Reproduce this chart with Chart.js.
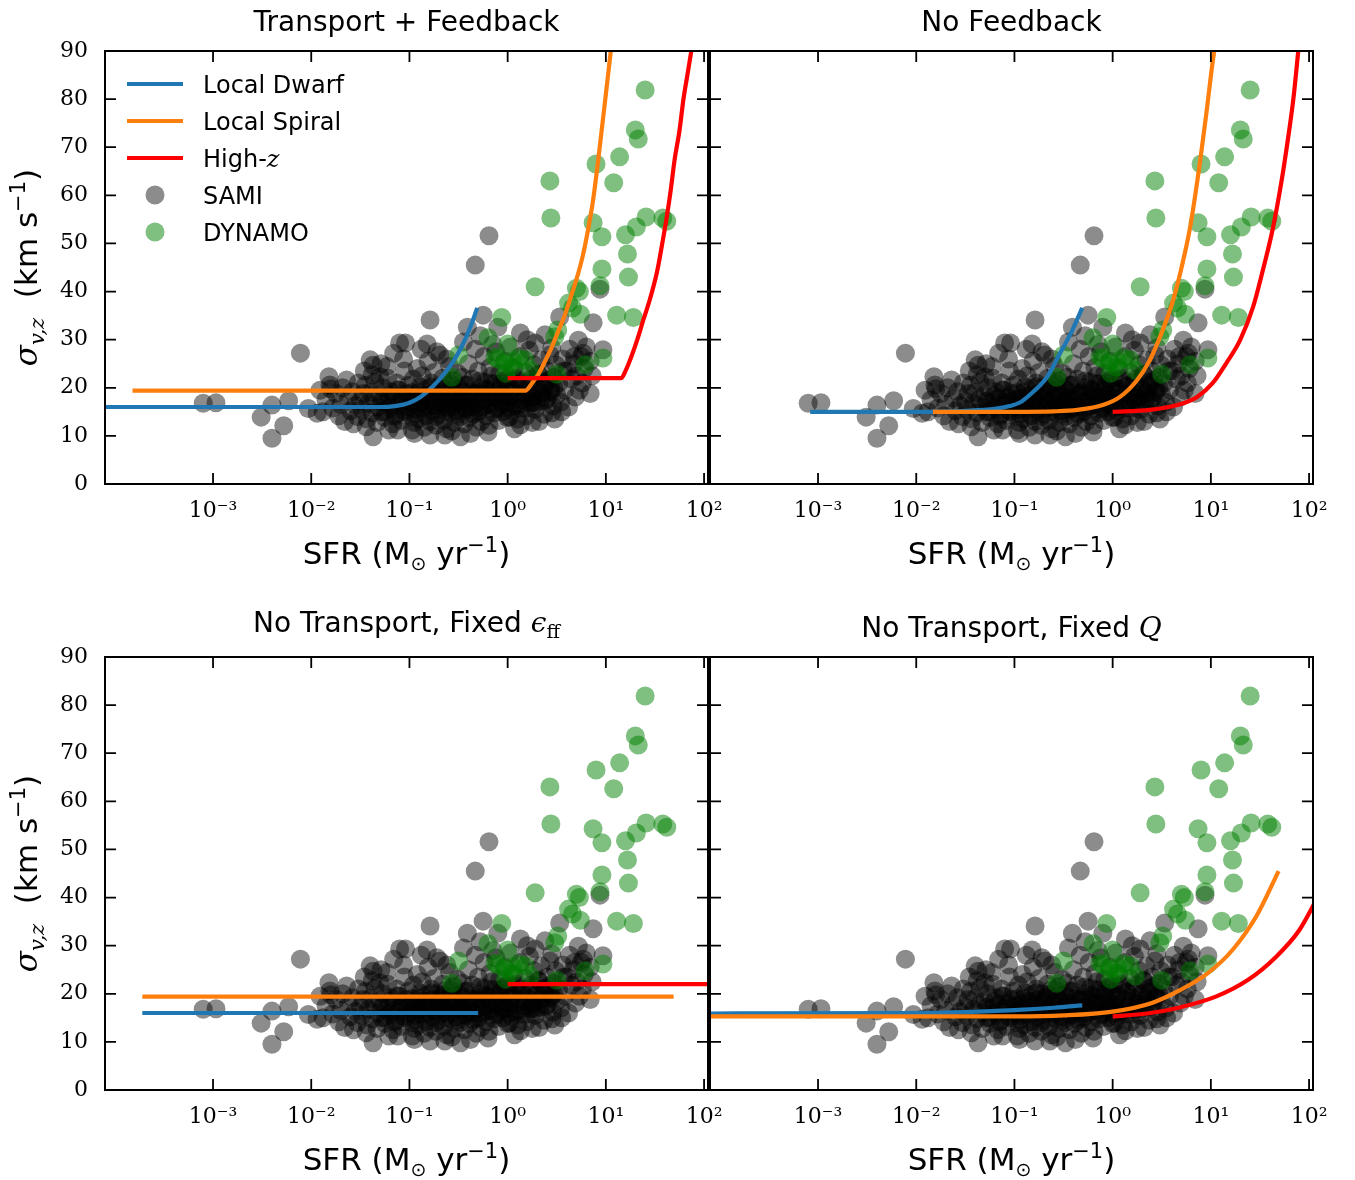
<!DOCTYPE html>
<html>
<head>
<meta charset="utf-8">
<script src="https://cdn.jsdelivr.net/npm/chart.js@4.4.1/dist/chart.umd.min.js"></script>
<style>
html,body{margin:0;padding:0;background:#fff;}
#wrap{position:relative;width:1355px;height:1180px;background:#fff;}
canvas{position:absolute;left:0;top:0;}
</style>
</head>
<body>
<div id="wrap">
<canvas id="c0" width="1355" height="1180"></canvas>
<canvas id="c1" width="1355" height="1180"></canvas>
<canvas id="c2" width="1355" height="1180"></canvas>
<canvas id="c3" width="1355" height="1180"></canvas>
</div>
<script>
// ---------------- DATA ----------------
const xTickValues = [1e-3, 1e-2, 1e-1, 1, 10, 100];
const xTickLabels = ['10⁻³', '10⁻²', '10⁻¹', '10⁰', '10¹', '10²'];
const yTickValues = [0, 10, 20, 30, 40, 50, 60, 70, 80, 90];
const yTickLabels = ['0', '10', '20', '30', '40', '50', '60', '70', '80', '90'];
const xLogMin = -4.1, xLogMax = 2.04;

const legendLabels = ['Local Dwarf', 'Local Spiral', 'High-', 'SAMI', 'DYNAMO'];

// SAMI (log10 SFR, sigma)
const samiLogSFR = [
 -3.10,-2.97,-2.40,-2.51,-2.28,-2.40,-2.23,-2.11,-2.03,-1.94,
 -1.91,-1.82,-1.81,-1.64,-1.40,-1.37,-1.38,-1.37,-1.44,-1.16,
 -1.10,-1.23,-1.30,-1.04,-0.82,-0.79,-0.41,-0.25,-0.10,0.13,
 0.28,0.45,0.72,0.77,0.87,0.97,0.69,0.55,0.45,0.13,
 0.02,-0.48,-0.64,-0.79,-0.97,-1.12,-0.33,-0.19,0.53,0.94,
 0.76,0.84,0.86,0.57,
 -1.85,-1.78,-1.75,-1.72,-1.70,-1.68,-1.66,-1.62,-1.60,-1.58,
 -1.55,-1.53,-1.52,-1.50,-1.88,-1.80,-1.57,
 -1.48,-1.47,-1.45,-1.43,-1.42,-1.40,-1.38,-1.36,-1.35,-1.33,
 -1.32,-1.30,-1.28,-1.27,-1.25,-1.24,-1.22,-1.20,-1.19,-1.17,
 -1.16,-1.14,-1.13,-1.11,-1.10,-1.08,-1.07,-1.05,-1.04,-1.02,
 -1.01,-1.46,-1.29,-1.21,-1.06,
 -0.99,-0.98,-0.97,-0.96,-0.95,-0.94,-0.93,-0.92,-0.91,-0.90,
 -0.89,-0.88,-0.87,-0.86,-0.85,-0.84,-0.83,-0.82,-0.81,-0.80,
 -0.79,-0.78,-0.77,-0.76,-0.75,-0.74,-0.73,-0.72,-0.71,-0.70,
 -0.69,-0.68,-0.67,-0.66,-0.65,-0.64,-0.63,-0.62,-0.61,-0.60,
 -0.59,-0.58,-0.57,-0.56,-0.55,-0.54,-0.53,-0.52,-0.51,-0.50,
 -0.88,-0.72,-0.57,-0.95,-0.62,
 -0.49,-0.48,-0.47,-0.46,-0.45,-0.44,-0.43,-0.42,-0.41,-0.40,
 -0.39,-0.38,-0.37,-0.36,-0.35,-0.34,-0.33,-0.32,-0.31,-0.30,
 -0.29,-0.28,-0.27,-0.26,-0.25,-0.24,-0.23,-0.22,-0.21,-0.20,
 -0.19,-0.18,-0.17,-0.16,-0.15,-0.14,-0.13,-0.12,-0.11,-0.10,
 -0.09,-0.08,-0.07,-0.06,-0.05,-0.04,-0.03,-0.02,-0.01,0.00,
 -0.45,-0.28,-0.15,-0.38,-0.20,
 0.01,0.02,0.04,0.05,0.06,0.08,0.09,0.10,0.11,0.13,
 0.14,0.15,0.16,0.18,0.19,0.20,0.22,0.23,0.24,0.26,
 0.27,0.28,0.30,0.31,0.33,0.34,0.35,0.37,0.38,0.40,
 0.41,0.43,0.44,0.46,0.47,0.49,0.50,0.07,0.25,0.32,
 0.48,0.20,0.38,0.03,
 0.52,0.54,0.56,0.58,0.60,0.62,0.63,0.65,0.67,0.70,
 0.73,0.75,0.78,0.80,0.84,0.68,
 -1.28,-1.25,-1.21,-1.18,-1.15,-1.12,-1.09,-1.06,-1.03,-1.00,
 -0.97,-0.94,-0.91,-0.89,-0.86,-0.84,-0.81,-0.78,-0.76,-0.73,
 -0.71,-0.68,-0.66,-0.63,-0.61,-0.58,-0.56,-0.53,-0.51,-0.48,
 -0.46,-0.43,-0.41,-0.38,-0.36,-0.33,-0.31,-0.28,-0.26,-0.23,
 -0.21,-0.18,-0.16,-0.13,-0.11,-0.08,-0.06,-0.03,-0.01,0.02,
 0.04,0.07,0.09,0.12,0.14,0.17,0.19,0.22,0.24,0.27,
 0.29,0.32,0.34,0.37,0.39,0.42,0.44,0.47,0.35,0.25
];
const samiSigma = [
 16.8,16.9,16.4,13.9,12.1,9.5,17.3,27.2,15.7,14.7,
 19.5,22.3,20.6,21.6,25.8,24.7,22.7,9.8,11.9,27.2,
 29.3,24.4,22.3,29.3,29.1,34.1,32.6,35.1,32.6,31.4,
 29.3,28.3,29.9,27.2,33.5,27.9,18.1,15.0,14.8,12.3,
 13.9,9.8,10.2,10.2,11.2,11.2,45.5,51.6,34.7,40.5,
 21.0,18.8,22.5,23.5,
 17.5,15.8,18.8,14.2,16.5,20.0,13.0,17.8,15.2,19.2,
 16.3,14.0,21.0,17.2,15.0,19.8,12.5,
 15.5,18.8,20.5,13.5,16.8,19.0,14.8,17.5,21.2,12.8,
 16.0,18.5,15.0,20.0,13.8,17.0,22.0,15.8,19.2,12.5,
 17.8,14.5,21.0,16.2,19.5,13.2,18.0,23.5,15.0,17.2,
 20.5,23.5,25.0,11.2,26.0,
 14.0,16.8,19.0,21.8,12.8,15.5,18.0,24.0,17.0,13.5,
 20.2,15.8,22.5,18.5,11.8,16.5,14.2,19.8,25.5,17.5,
 13.0,21.0,15.2,18.8,23.2,16.2,12.2,20.0,14.5,17.8,
 26.8,19.2,15.8,22.0,13.2,17.0,20.8,11.5,16.0,18.2,
 24.5,14.8,19.5,16.8,21.5,12.8,18.0,15.2,23.0,17.2,
 28.0,27.5,11.0,10.5,26.0,
 19.8,14.0,16.5,22.2,18.2,12.5,20.5,15.5,17.5,25.0,
 13.8,19.0,16.2,21.8,14.5,18.5,28.0,11.8,17.0,23.5,
 15.2,20.0,13.0,18.8,16.0,26.5,21.2,14.2,17.8,19.5,
 12.2,24.2,16.5,22.5,18.0,14.8,20.8,27.5,15.8,19.0,
 13.2,23.0,17.2,21.0,15.0,18.5,25.5,16.8,20.2,13.8,
 29.5,30.8,29.0,10.5,10.8,
 22.0,17.8,15.2,19.8,24.0,16.2,21.5,13.5,18.8,26.5,
 15.8,20.5,17.5,23.2,14.2,19.2,27.8,16.8,21.8,18.0,
 24.8,15.5,20.0,22.8,17.2,25.8,19.0,14.5,21.2,23.5,
 17.8,26.8,19.8,16.2,22.2,24.8,18.5,11.5,12.8,13.0,
 13.5,30.0,31.0,28.5,
 21.0,17.0,26.0,19.5,23.5,16.0,28.0,21.8,25.0,22.5,
 19.5,26.5,24.0,28.5,25.5,26.5,
 17.2,15.0,18.4,16.3,14.1,19.6,17.0,15.4,18.8,16.0,
 17.6,14.6,19.0,16.8,18.2,15.6,17.4,20.2,16.4,14.0,
 18.6,16.9,19.8,15.1,17.9,20.8,16.1,18.7,14.5,17.1,
 19.3,15.8,20.6,17.7,16.0,18.9,14.9,21.4,17.3,19.7,
 16.4,18.3,20.9,15.6,17.8,19.9,16.7,21.6,18.1,15.9,
 19.4,17.5,22.0,16.6,20.3,18.4,15.7,21.1,17.9,19.6,
 16.9,22.6,18.8,20.4,17.4,21.5,19.2,20.0,18.0,17.0
];

// DYNAMO (log10 SFR, sigma)
const dynamoLogSFR = [
 1.40,1.30,1.33,1.14,0.90,1.08,0.43,0.44,0.87,0.96,
 1.20,1.31,1.41,1.58,1.62,1.22,0.96,1.23,0.28,0.94,
 0.70,0.73,0.62,0.66,-0.06,1.11,1.28,0.74,0.51,0.48,
 -0.20,0.00,-0.50,-0.13,-0.10,0.11,-0.03,0.18,0.23,0.04,
 -0.57,0.50,0.79,0.97,0.05,-0.02
];
const dynamoSigma = [
 81.9,73.6,71.7,68.0,66.5,62.6,63.0,55.3,54.3,51.4,
 51.8,53.4,55.5,55.3,54.6,47.8,44.7,43.0,41.0,41.2,
 40.7,40.0,37.6,36.6,34.6,35.1,34.6,35.3,32.0,30.6,
 30.4,29.1,26.8,26.4,26.0,26.2,25.2,25.8,23.7,24.3,
 22.2,22.8,24.8,26.2,25.5,23.0
];

// Model curves: Transport + Feedback
const tfDwarfLogSFR = [-4.1,-1.3,-1.15,-1.0,-0.88,-0.76,-0.65,-0.55,-0.46,-0.38,-0.31];
const tfDwarfSigma  = [16.0,16.0,16.2,16.9,18.2,20.3,22.8,25.6,28.9,32.6,36.6];
const tfSpiralLogSFR = [-3.82,0.18,0.25,0.31,0.38,0.45,0.52,0.58,0.64,0.70,0.76,0.82,0.87,0.92,0.96,1.00,1.05];
const tfSpiralSigma  = [19.4,19.4,21.0,22.7,25.5,28.5,32.0,35.0,38.7,42.5,47.0,53.0,59.0,67.0,74.0,81.0,90.0];
const tfHighzLogSFR = [0.0,1.155,1.2,1.26,1.32,1.38,1.45,1.52,1.57,1.62,1.66,1.70,1.75,1.79,1.83,1.87];
const tfHighzSigma  = [22.0,22.0,23.5,26.5,30.0,34.0,38.5,44.0,49.5,55.5,61.0,67.4,73.5,80.0,85.0,90.0];

// No Feedback
const nfDwarfLogSFR = [-3.08,-2.0,-1.5,-1.2,-1.05,-0.94,-0.84,-0.67,-0.54,-0.41,-0.31];
const nfDwarfSigma  = [15.0,15.0,15.2,15.6,16.2,17.0,18.6,22.2,27.0,32.0,36.6];
const nfSpiralLogSFR = [-1.83,-1.0,-0.6,-0.36,-0.1,0.075,0.25,0.38,0.51,0.61,0.69,0.79,0.89,0.96,1.02,1.035];
const nfSpiralSigma  = [15.0,15.0,15.1,15.4,16.4,18.1,21.6,25.8,32.0,37.8,44.0,53.5,67.0,78.0,88.0,90.0];
const nfHighzLogSFR = [0.0,0.38,0.66,0.86,1.02,1.16,1.30,1.43,1.53,1.63,1.72,1.78,1.84,1.89];
const nfHighzSigma  = [15.0,15.4,16.4,18.1,21.0,25.2,30.0,36.8,44.5,53.0,63.0,71.0,80.0,90.0];

// No Transport, Fixed eps_ff
const feDwarfLogSFR = [-3.72,-0.30];
const feDwarfSigma  = [16.0,16.0];
const feSpiralLogSFR = [-3.72,1.69];
const feSpiralSigma  = [19.4,19.4];
const feHighzLogSFR = [0.0,2.1];
const feHighzSigma  = [22.0,22.0];

// No Transport, Fixed Q
const fqDwarfLogSFR = [-4.2,-2.0,-1.5,-1.0,-0.6,-0.31];
const fqDwarfSigma  = [15.9,16.0,16.2,16.6,17.1,17.6];
const fqSpiralLogSFR = [-4.2,-1.0,-0.5,0.0,0.4,0.69,0.97,1.22,1.46,1.69];
const fqSpiralSigma  = [15.3,15.3,15.5,16.3,18.1,20.8,24.3,29.1,36.0,45.5];
const fqHighzLogSFR = [0.0,0.35,0.65,1.05,1.38,1.66,1.9,2.1];
const fqHighzSigma  = [15.3,15.9,17.0,19.4,22.9,27.6,33.2,40.5];

// ---------------- STYLE / LAYOUT ----------------
const W = 1355, H = 1180;
const SANS = '"DejaVu Sans", sans-serif';
const SERIF = '"DejaVu Serif", serif';
const C_DWARF = '#1f77b4', C_SPIRAL = '#ff7f0e', C_HIGHZ = '#ff0000';
const C_SAMI = 'rgba(0,0,0,0.45)', C_DYN = 'rgba(0,128,0,0.5)';
const Y_AXIS_W = 105, X_AXIS_H = 60, TICK_LEN = 11;

const panels = [
  {id:'c0', L:105, T:51, R:708, B:484, yLabels:true, legend:true, titleBase:31,
   title:[{t:'Transport + Feedback'}],
   dwarf:[tfDwarfLogSFR,tfDwarfSigma], spiral:[tfSpiralLogSFR,tfSpiralSigma], highz:[tfHighzLogSFR,tfHighzSigma]},
  {id:'c1', L:710, T:51, R:1313, B:484, yLabels:false, legend:false, titleBase:31,
   title:[{t:'No Feedback'}],
   dwarf:[nfDwarfLogSFR,nfDwarfSigma], spiral:[nfSpiralLogSFR,nfSpiralSigma], highz:[nfHighzLogSFR,nfHighzSigma]},
  {id:'c2', L:105, T:657, R:708, B:1090, yLabels:true, legend:false, titleBase:632,
   title:[{t:'No Transport, Fixed '},{t:'ϵ', f:'italic 28px '+SERIF},{t:'ff', f:'19px '+SERIF, dy:6}],
   dwarf:[feDwarfLogSFR,feDwarfSigma], spiral:[feSpiralLogSFR,feSpiralSigma], highz:[feHighzLogSFR,feHighzSigma]},
  {id:'c3', L:710, T:657, R:1313, B:1090, yLabels:false, legend:false, titleBase:637,
   title:[{t:'No Transport, Fixed '},{t:'Q', f:'italic 28px '+SERIF}],
   dwarf:[fqDwarfLogSFR,fqDwarfSigma], spiral:[fqSpiralLogSFR,fqSpiralSigma], highz:[fqHighzLogSFR,fqHighzSigma]}
];

function pts(logs, vals){ return logs.map((l,i)=>({x:Math.pow(10,l), y:vals[i]})); }

function drawRich(ctx, pieces, x, y, defFont){
  let total = 0;
  const ws = pieces.map(p=>{ ctx.font = p.f || defFont; const w = ctx.measureText(p.t).width; total += w; return w; });
  let cx = x - total/2;
  pieces.forEach((p,i)=>{ ctx.font = p.f || defFont; ctx.fillText(p.t, cx, y + (p.dy||0)); cx += ws[i]; });
}

const decor = {
  id:'decor',
  afterDraw(chart, args, o){
    const ctx = chart.ctx;
    const {left, top, right, bottom} = chart.chartArea;
    const xs = chart.scales.x, ys = chart.scales.y;
    ctx.save();
    ctx.strokeStyle = '#000'; ctx.lineWidth = 1.8; ctx.beginPath();
    xTickValues.forEach(v=>{ const p = xs.getPixelForValue(v);
      if (p < left-0.5 || p > right+0.5) return;
      ctx.moveTo(p, bottom); ctx.lineTo(p, bottom-TICK_LEN);
      ctx.moveTo(p, top); ctx.lineTo(p, top+TICK_LEN); });
    yTickValues.forEach(v=>{ const p = ys.getPixelForValue(v);
      ctx.moveTo(left, p); ctx.lineTo(left+TICK_LEN, p);
      ctx.moveTo(right, p); ctx.lineTo(right-TICK_LEN, p); });
    ctx.stroke();
    ctx.lineWidth = 2;
    ctx.strokeRect(left, top, right-left, bottom-top);
    ctx.fillStyle = '#000'; ctx.textBaseline = 'alphabetic'; ctx.textAlign = 'left';
    const cx = (left+right)/2;
    drawRich(ctx, o.title, cx, o.titleBase, '28px '+SANS);
    drawRich(ctx, [{t:'SFR (M'},{t:'⊙', f:'19px '+SANS, dy:6},{t:' yr'},{t:'−1', f:'21px '+SANS, dy:-12},{t:')'}],
      cx, bottom + 80, '31px '+SANS);
    if (o.yLabels){
      ctx.save();
      ctx.translate(37, (top+bottom)/2);
      ctx.rotate(-Math.PI/2);
      drawRich(ctx, [{t:'σ', f:'italic 31px '+SERIF},{t:'v,z', f:'italic 21px '+SERIF, dy:7},{t:'  (km s'},{t:'−1', f:'21px '+SANS, dy:-12},{t:')'}],
        0, 0, '31px '+SANS);
      ctx.restore();
    }
    if (o.legend){
      const lx0 = left + 22, lx1 = left + 78, tx = left + 98;
      const rows = [top+33, top+70, top+107, top+144, top+181];
      const cols = [C_DWARF, C_SPIRAL, C_HIGHZ];
      ctx.lineWidth = 4.2; ctx.lineCap = 'butt';
      for (let i=0;i<3;i++){ ctx.strokeStyle = cols[i]; ctx.beginPath(); ctx.moveTo(lx0, rows[i]); ctx.lineTo(lx1, rows[i]); ctx.stroke(); }
      [[C_SAMI,3],[C_DYN,4]].forEach(([c,i])=>{ ctx.fillStyle = c; ctx.beginPath(); ctx.arc((lx0+lx1)/2, rows[i], 9.5, 0, Math.PI*2); ctx.fill(); });
      ctx.fillStyle = '#000';
      for (let i=0;i<5;i++){
        ctx.font = '24px '+SANS;
        ctx.fillText(legendLabels[i], tx, rows[i]+8.5);
        if (i===2){ const w = ctx.measureText(legendLabels[i]).width; ctx.font = 'italic 24px '+SERIF; ctx.fillText('z', tx+w, rows[i]+8.5); }
      }
    }
    ctx.restore();
  }
};

function lineDS(arr, color, label){
  return {label, type:'scatter', showLine:true, data:pts(arr[0], arr[1]), borderColor:color, backgroundColor:color,
    borderWidth:4.2, pointRadius:0, cubicInterpolationMode:'monotone', clip:0};
}

panels.forEach(p=>{
  new Chart(document.getElementById(p.id), {
    type:'scatter',
    data:{datasets:[
      lineDS(p.highz, C_HIGHZ, 'High-z'),
      lineDS(p.spiral, C_SPIRAL, 'Local Spiral'),
      lineDS(p.dwarf, C_DWARF, 'Local Dwarf'),
      {label:'DYNAMO', data:pts(dynamoLogSFR, dynamoSigma), pointRadius:9.5, pointBorderWidth:0, borderWidth:0,
       pointBackgroundColor:C_DYN, backgroundColor:C_DYN},
      {label:'SAMI', data:pts(samiLogSFR, samiSigma), pointRadius:9.5, pointBorderWidth:0, borderWidth:0,
       pointBackgroundColor:C_SAMI, backgroundColor:C_SAMI}
    ]},
    options:{
      responsive:false, animation:false, events:[], devicePixelRatio:1,
      layout:{padding:{left:p.L-(p.yLabels?Y_AXIS_W:0), top:p.T, right:W-p.R, bottom:H-p.B-X_AXIS_H}},
      plugins:{legend:{display:false}, tooltip:{enabled:false}, title:{display:false},
        decor:{title:p.title, titleBase:p.titleBase, yLabels:p.yLabels, legend:p.legend}},
      scales:{
        x:{type:'logarithmic', min:Math.pow(10,xLogMin), max:Math.pow(10,xLogMax),
          afterBuildTicks:s=>{ s.ticks = xTickValues.map(v=>({value:v})); },
          afterFit:s=>{ s.height = X_AXIS_H; s.paddingLeft=0; s.paddingRight=0; s.paddingTop=0; s.paddingBottom=0; },
          ticks:{autoSkip:false, maxRotation:0, minRotation:0, padding:14, color:'#000',
            font:{family:SERIF, size:22},
            callback:(v)=>{ const i = xTickValues.findIndex(t=>Math.abs(Math.log10(t)-Math.log10(v))<1e-6); return i>=0 ? xTickLabels[i] : ''; }},
          grid:{display:false, drawTicks:false}, border:{display:false}},
        y:{type:'linear', min:0, max:90,
          afterBuildTicks:s=>{ s.ticks = yTickValues.map(v=>({value:v})); },
          afterFit:s=>{ s.width = p.yLabels ? Y_AXIS_W : 0; s.paddingLeft=0; s.paddingRight=0; s.paddingTop=0; s.paddingBottom=0; },
          ticks:{display:p.yLabels, padding:17, color:'#000', font:{family:SERIF, size:22},
            callback:(v)=>{ const i = yTickValues.indexOf(v); return i>=0 ? yTickLabels[i] : ''; }},
          grid:{display:false, drawTicks:false}, border:{display:false}}
      }
    },
    plugins:[decor]
  });
});
</script>
</body>
</html>
